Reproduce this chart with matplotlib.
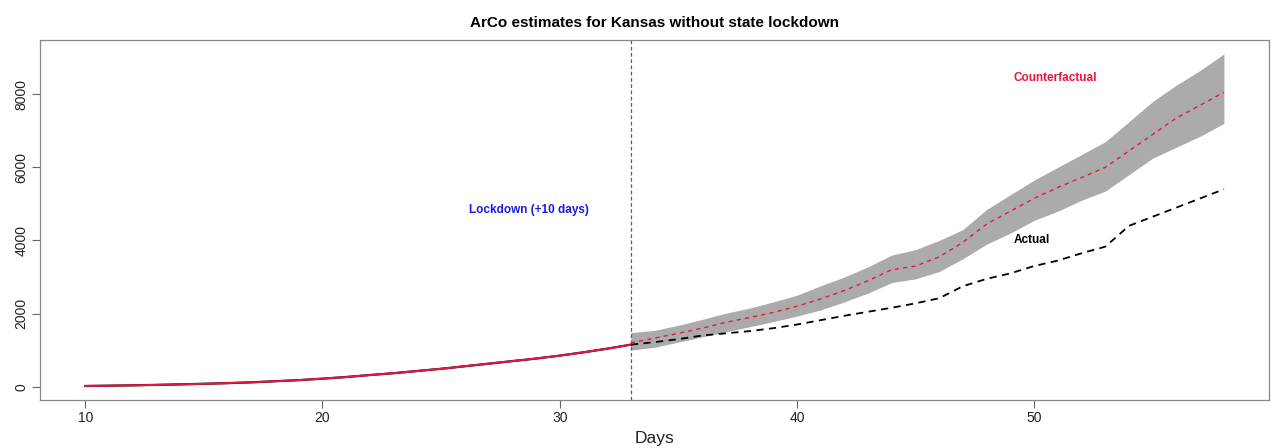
import matplotlib
matplotlib.use("Agg")
import matplotlib.pyplot as plt
import numpy as np

plt.rcParams["font.family"] = ["Liberation Sans", "DejaVu Sans"]

# pre-lockdown period (days 10..33), cumulative cases
pre_days = list(range(10, 34))
pre_cases = [20, 28, 38, 50, 64, 80, 98, 120, 150, 180, 220, 265, 320, 370,
             430, 490, 560, 630, 700, 770, 850, 940, 1040, 1150]

# post-lockdown period (days 33..58)
post_days = list(range(33, 59))
actual = [1150, 1220, 1300, 1400, 1460, 1520, 1600, 1700, 1820, 1940, 2050,
          2160, 2280, 2420, 2750, 2950, 3100, 3300, 3450, 3650, 3830, 4400,
          4650, 4900, 5150, 5400]
cf_mean = [1200, 1330, 1460, 1600, 1760, 1890, 2030, 2200, 2400, 2630, 2900,
           3200, 3300, 3550, 3950, 4450, 4800, 5150, 5450, 5720, 6000, 6450,
           6900, 7350, 7700, 8050]
cf_lo = [1000, 1080, 1220, 1360, 1500, 1640, 1780, 1930, 2100, 2320, 2560,
         2850, 2950, 3150, 3500, 3900, 4200, 4550, 4800, 5100, 5350, 5800,
         6250, 6550, 6850, 7200]
cf_hi = [1480, 1540, 1680, 1840, 2010, 2150, 2320, 2500, 2760, 3000, 3280,
         3600, 3750, 4000, 4300, 4850, 5250, 5650, 6000, 6350, 6700, 7250,
         7800, 8250, 8650, 9100]

lockdown_day = 33
x_ticks = [10, 20, 30, 40, 50]
y_ticks = [0, 2000, 4000, 6000, 8000]

RED = "#E8173F"
GRID = "#666666"

fig = plt.figure(figsize=(12.81, 4.48), dpi=100)
ax = fig.add_axes([0.031, 0.107, 0.960, 0.804])

ax.fill_between(post_days, cf_lo, cf_hi, color="#ABABAB", lw=0, zorder=1)
ax.plot(pre_days, pre_cases, color="black", lw=1.6, zorder=2)
ax.plot(pre_days, pre_cases, color=RED, lw=1.4, zorder=3)
ax.plot(post_days, actual, color="black", lw=1.3, ls=(0, (4, 3)), zorder=3)
ax.plot(post_days, cf_mean, color=RED, lw=1.0, ls=(0, (3, 3)), zorder=4)
ax.axvline(lockdown_day, color="#4A4AF0", lw=0.9, ls=(0, (3, 2)), zorder=2)

ax.text(28.7, 4840, "Lockdown (+10 days)", color="#1A1AE6",
        fontsize=8.5, fontweight="bold", ha="center", va="center")
ax.text(50.9, 8440, "Counterfactual", color=RED,
        fontsize=8.5, fontweight="bold", ha="center", va="center")
ax.text(49.9, 4020, "Actual", color="black",
        fontsize=8.5, fontweight="bold", ha="center", va="center")

ax.set_xlim(8.08, 59.92)
ax.set_ylim(-365, 9485)
ax.set_xticks(x_ticks)
ax.set_yticks(y_ticks)
ax.set_yticklabels([str(v) for v in y_ticks], rotation=90, va="center")
ax.tick_params(direction="out", length=6, width=0.8, color=GRID,
               labelsize=10, labelcolor="#222222", pad=2)
for s in ax.spines.values():
    s.set_color("#888888")
    s.set_linewidth(0.9)

ax.set_xlabel("Days", fontsize=12.5, labelpad=4, color="#222222")
ax.set_title("ArCo estimates for Kansas without state lockdown",
             fontsize=11, fontweight="bold", pad=9)

fig.savefig("out.png", dpi=100, facecolor="white")
